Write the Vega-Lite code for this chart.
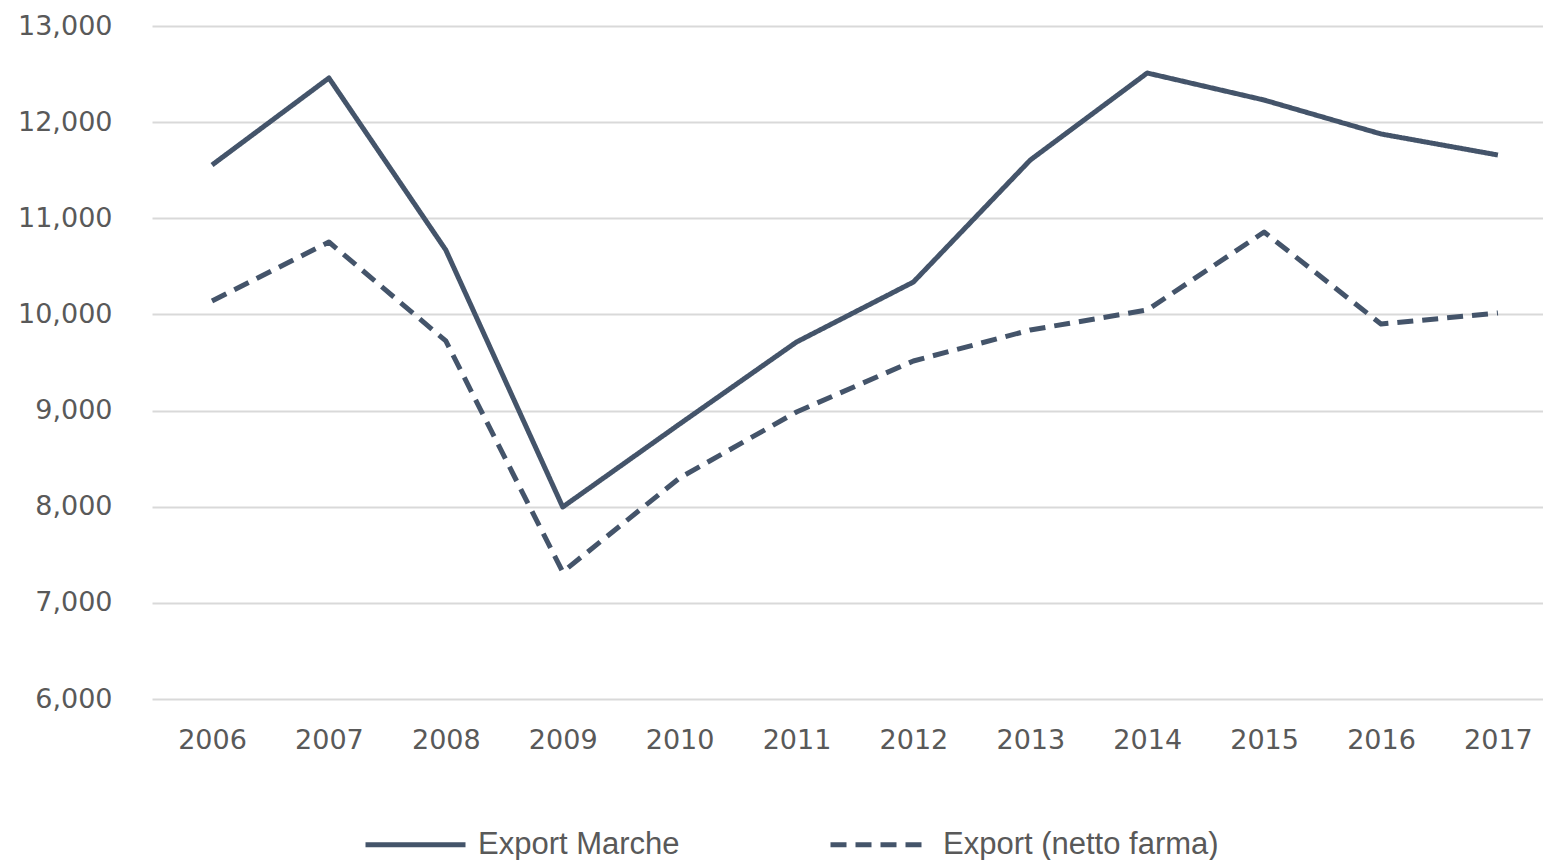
{
  "$schema": "https://vega.github.io/schema/vega-lite/v6.json",
  "autosize": {"type": "none"},
  "padding": {"left": 152, "top": 26, "right": 0, "bottom": 161},
  "width": 1391,
  "height": 673,
  "background": "white",
  "data": {
    "values": [
      {"year": "2006", "series": "Export Marche", "value": 11554},
      {"year": "2007", "series": "Export Marche", "value": 12459},
      {"year": "2008", "series": "Export Marche", "value": 10670},
      {"year": "2009", "series": "Export Marche", "value": 7997},
      {"year": "2010", "series": "Export Marche", "value": 8860},
      {"year": "2011", "series": "Export Marche", "value": 9713},
      {"year": "2012", "series": "Export Marche", "value": 10337},
      {"year": "2013", "series": "Export Marche", "value": 11606},
      {"year": "2014", "series": "Export Marche", "value": 12511},
      {"year": "2015", "series": "Export Marche", "value": 12230},
      {"year": "2016", "series": "Export Marche", "value": 11877},
      {"year": "2017", "series": "Export Marche", "value": 11658},
      {"year": "2006", "series": "Export (netto farma)", "value": 10140},
      {"year": "2007", "series": "Export (netto farma)", "value": 10753},
      {"year": "2008", "series": "Export (netto farma)", "value": 9724},
      {"year": "2009", "series": "Export (netto farma)", "value": 7321},
      {"year": "2010", "series": "Export (netto farma)", "value": 8299},
      {"year": "2011", "series": "Export (netto farma)", "value": 8985},
      {"year": "2012", "series": "Export (netto farma)", "value": 9516},
      {"year": "2013", "series": "Export (netto farma)", "value": 9838},
      {"year": "2014", "series": "Export (netto farma)", "value": 10046},
      {"year": "2015", "series": "Export (netto farma)", "value": 10857},
      {"year": "2016", "series": "Export (netto farma)", "value": 9900},
      {"year": "2017", "series": "Export (netto farma)", "value": 10015}
    ]
  },
  "mark": {"type": "line", "strokeWidth": 5, "color": "#44546a", "strokeJoin": "round"},
  "encoding": {
    "x": {
      "field": "year",
      "type": "ordinal",
      "scale": {"type": "point", "padding": 0.4495, "align": 0.571},
      "axis": {
        "title": null,
        "domain": false,
        "ticks": false,
        "grid": false,
        "labelAngle": 0,
        "labelFont": "DejaVu Sans",
        "labelFontSize": 27,
        "labelColor": "#595959",
        "labelPadding": 28
      }
    },
    "y": {
      "field": "value",
      "type": "quantitative",
      "scale": {"domain": [6000, 13000], "nice": false, "zero": false},
      "axis": {
        "title": null,
        "domain": false,
        "ticks": false,
        "values": [6000, 7000, 8000, 9000, 10000, 11000, 12000, 13000],
        "format": ",.0f",
        "grid": true,
        "gridColor": "#d9d9d9",
        "gridWidth": 2,
        "labelFont": "DejaVu Sans",
        "labelFontSize": 27,
        "labelColor": "#595959",
        "labelPadding": 40
      }
    },
    "strokeDash": {
      "field": "series",
      "type": "nominal",
      "sort": ["Export Marche", "Export (netto farma)"],
      "scale": {"domain": ["Export Marche", "Export (netto farma)"], "range": [[1, 0], [16, 9]]},
      "legend": {
        "title": null,
        "orient": "none",
        "direction": "horizontal",
        "legendX": 211,
        "legendY": 766,
        "symbolType": "stroke",
        "symbolSize": 10000,
        "symbolStrokeWidth": 5,
        "symbolStrokeColor": "#44546a",
        "labelFont": "Liberation Sans",
        "labelFontSize": 31,
        "labelColor": "#595959",
        "labelOffset": 10,
        "columnPadding": 140,
        "labelLimit": 400
      }
    }
  },
  "config": {"view": {"stroke": null}}
}
